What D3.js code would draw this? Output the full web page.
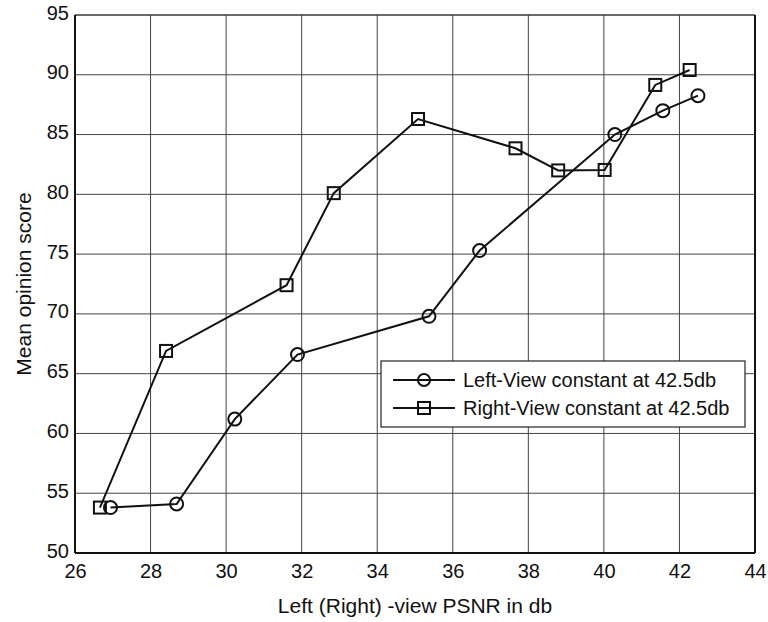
<!DOCTYPE html>
<html lang="en">
<head>
    <title>MOS vs PSNR</title>
    <script src="https://d3js.org/d3.v7.min.js" charset="utf-8"></script>
    <style>
        body { margin: 0; background: #fff; }
        text { font-family: "Liberation Sans", Arial, sans-serif; fill: #111; }
    </style>
</head>
<body>
<script>

    var w = 768;
    var h = 622;

    // Left-View constant at 42.5db (circles)
    var leftX = [26.94, 28.69, 30.23, 31.89, 35.37, 36.71, 40.29, 41.56, 42.49];
    var leftY = [53.8, 54.1, 61.2, 66.6, 69.8, 75.3, 85.0, 87.0, 88.25];

    // Right-View constant at 42.5db (squares)
    var rightX = [26.66, 28.41, 31.6, 32.85, 35.08, 37.66, 38.79, 40.02, 41.36, 42.27];
    var rightY = [53.8, 66.9, 72.4, 80.1, 86.3, 83.85, 82.0, 82.04, 89.15, 90.4];

    var xTicks = [26, 28, 30, 32, 34, 36, 38, 40, 42, 44];
    var yTicks = [50, 55, 60, 65, 70, 75, 80, 85, 90, 95];
    var legendLabels = ["Left-View constant at 42.5db", "Right-View constant at 42.5db"];

    var margin = {left: 75, top: 15, right: 13, bottom: 69};

    var svg = d3.select("body")
        .append("svg")
        .attr("width", w)
        .attr("height", h);

    var x = d3.scaleLinear().domain([26, 44]).range([margin.left, w - margin.right]);
    var y = d3.scaleLinear().domain([50, 95]).range([h - margin.bottom, margin.top]);

    // grid
    svg.append("g").selectAll("line").data(xTicks).enter().append("line")
        .attr("x1", d => x(d)).attr("x2", d => x(d))
        .attr("y1", y(50)).attr("y2", y(95))
        .attr("stroke", "#444").attr("stroke-width", 1);
    svg.append("g").selectAll("line").data(yTicks).enter().append("line")
        .attr("x1", x(26)).attr("x2", x(44))
        .attr("y1", d => y(d)).attr("y2", d => y(d))
        .attr("stroke", "#444").attr("stroke-width", 1);

    // axes
    var xAxis = svg.append("g")
        .attr("transform", "translate(0," + y(50) + ")")
        .call(d3.axisBottom(x).tickValues(xTicks).tickSize(0).tickPadding(11));
    var yAxis = svg.append("g")
        .attr("transform", "translate(" + x(26) + ",0)")
        .call(d3.axisLeft(y).tickValues(yTicks).tickSize(0).tickPadding(6));
    [xAxis, yAxis].forEach(function(a) {
        a.select(".domain").remove();
        a.selectAll("text").attr("font-size", 20).attr("fill", "#111")
            .style("font-family", "'Liberation Sans', Arial, sans-serif");
    });
    yAxis.selectAll("text").attr("dy", "0.2em");

    // box
    svg.append("line").attr("x1", x(26)).attr("x2", x(44)).attr("y1", y(95)).attr("y2", y(95))
        .attr("stroke", "#333").attr("stroke-width", 1.2);
    svg.append("line").attr("x1", x(26)).attr("x2", x(44)).attr("y1", y(50)).attr("y2", y(50))
        .attr("stroke", "#111").attr("stroke-width", 2);
    svg.append("line").attr("x1", x(26)).attr("x2", x(26)).attr("y1", y(50)).attr("y2", y(95))
        .attr("stroke", "#111").attr("stroke-width", 2);
    svg.append("line").attr("x1", x(44)).attr("x2", x(44)).attr("y1", y(50)).attr("y2", y(95))
        .attr("stroke", "#111").attr("stroke-width", 2);

    var line = d3.line().x(d => x(d[0])).y(d => y(d[1]));
    var leftData = leftX.map((v, i) => [v, leftY[i]]);
    var rightData = rightX.map((v, i) => [v, rightY[i]]);

    svg.append("path").datum(rightData).attr("d", line)
        .attr("fill", "none").attr("stroke", "#111").attr("stroke-width", 2);
    svg.append("path").datum(leftData).attr("d", line)
        .attr("fill", "none").attr("stroke", "#111").attr("stroke-width", 2);

    svg.append("g").selectAll("rect").data(rightData).enter().append("rect")
        .attr("x", d => x(d[0]) - 6).attr("y", d => y(d[1]) - 6)
        .attr("width", 12).attr("height", 12)
        .attr("fill", "none").attr("stroke", "#111").attr("stroke-width", 2);
    svg.append("g").selectAll("circle").data(leftData).enter().append("circle")
        .attr("cx", d => x(d[0])).attr("cy", d => y(d[1])).attr("r", 6.5)
        .attr("fill", "none").attr("stroke", "#111").attr("stroke-width", 2);

    // axis labels
    svg.append("text").attr("x", (x(26) + x(44)) / 2).attr("y", 613)
        .attr("text-anchor", "middle").attr("font-size", 21).text("Left (Right) -view PSNR in db");
    svg.append("text").attr("transform", "translate(31," + (y(72.5)) + ") rotate(-90)")
        .attr("text-anchor", "middle").attr("font-size", 21).text("Mean opinion score");

    // legend
    var lg = svg.append("g");
    lg.append("rect").attr("x", 381).attr("y", 361).attr("width", 364).attr("height", 66)
        .attr("fill", "#fff").attr("stroke", "#222").attr("stroke-width", 1.2);
    legendLabels.forEach(function(lab, i) {
        var ly = 380 + i * 28;
        lg.append("line").attr("x1", 393).attr("x2", 455).attr("y1", ly).attr("y2", ly)
            .attr("stroke", "#111").attr("stroke-width", 2);
        if (i === 0) {
            lg.append("circle").attr("cx", 424).attr("cy", ly).attr("r", 6)
                .attr("fill", "none").attr("stroke", "#111").attr("stroke-width", 2);
        } else {
            lg.append("rect").attr("x", 418).attr("y", ly - 6).attr("width", 12).attr("height", 12)
                .attr("fill", "none").attr("stroke", "#111").attr("stroke-width", 2);
        }
        lg.append("text").attr("x", 463).attr("y", ly + 7).attr("font-size", 20).text(lab);
    });
</script>
</body>
</html>
